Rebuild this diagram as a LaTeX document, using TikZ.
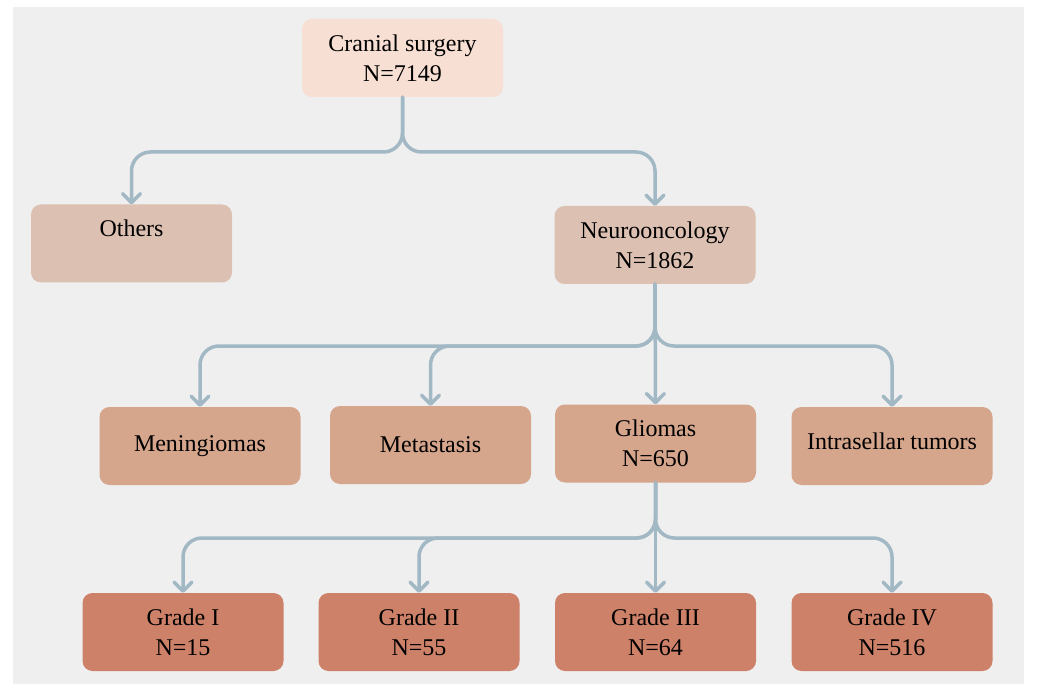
\documentclass[tikz,border=0pt]{standalone}
\usepackage{fontspec}
\setmainfont{Liberation Serif}
\usetikzlibrary{arrows.meta}
\definecolor{bgc}{RGB}{239,239,239}
\definecolor{c0}{RGB}{248,223,211}
\definecolor{c1}{RGB}{220,192,178}
\definecolor{c2}{RGB}{213,165,140}
\definecolor{c3}{RGB}{204,129,104}
\definecolor{arc}{RGB}{162,184,197}
\tikzset{
  box/.style={rounded corners=10pt, minimum width=201pt, minimum height=78pt, inner sep=0pt,
    align=center, font=\fontsize{24}{30}\selectfont},
  conn/.style={draw=arc, line width=3.5pt, rounded corners=19pt, line cap=round,
    -{Straight Barb[length=9pt,width=18pt,line cap=round,round]}},
  plain/.style={draw=arc, line width=3.5pt, line cap=round}
}
\begin{document}
\begin{tikzpicture}[x=1pt,y=-1pt]
\useasboundingbox (0,0) rectangle (1038,684);
\fill[white] (0,0) rectangle (1038,684);
\fill[bgc] (13,7) rectangle (1024,684);
% level 0
\node[box, fill=c0] (cran) at (402.5,58) {Cranial surgery\\N=7149};
% level 1
\node[box, fill=c1] (oth) at (131.5,243.5) {Others\\~};
\node[box, fill=c1] (neuro) at (655,245) {Neurooncology\\N=1862};
% level 2
\node[box, fill=c2] (men) at (200,446) {Meningiomas};
\node[box, fill=c2] (met) at (430.5,445) {Metastasis};
\node[box, fill=c2] (gli) at (655.5,443.5) {Gliomas\\N=650};
\node[box, fill=c2] (intra) at (892,446) {\raisebox{10pt}{Intrasellar tumors}};
% level 3
\node[box, fill=c3] (g1) at (183,632) {Grade I\\N=15};
\node[box, fill=c3] (g2) at (419,632) {Grade II\\N=55};
\node[box, fill=c3] (g3) at (655.5,632) {Grade III\\N=64};
\node[box, fill=c3] (g4) at (892,632) {Grade IV\\N=516};
% horizontal levels
\coordinate (h1) at (0,152);
\coordinate (h2) at (0,346);
\coordinate (h3) at (0,538);
% connectors level 1
\draw[conn] (cran.south) -- (cran.south |- h1) -- (oth.north |- h1) -- (oth.north);
\draw[conn] (cran.south) -- (cran.south |- h1) -- (neuro.north |- h1) -- (neuro.north);
% connectors level 2
\draw[conn] (neuro.south) -- (neuro.south |- h2) -- (men.north |- h2) -- (men.north);
\draw[conn] (neuro.south) -- (neuro.south |- h2) -- (met.north |- h2) -- (met.north);
\draw[conn] (neuro.south) -- (gli.north);
\draw[conn] (neuro.south) -- (neuro.south |- h2) -- (intra.north |- h2) -- (intra.north);
% connectors level 3
\draw[conn] (gli.south) -- (gli.south |- h3) -- (g1.north |- h3) -- (g1.north);
\draw[conn] (gli.south) -- (gli.south |- h3) -- (g2.north |- h3) -- (g2.north);
\draw[conn] (gli.south) -- (g3.north);
\draw[conn] (gli.south) -- (gli.south |- h3) -- (g4.north |- h3) -- (g4.north);
\end{tikzpicture}
\end{document}
